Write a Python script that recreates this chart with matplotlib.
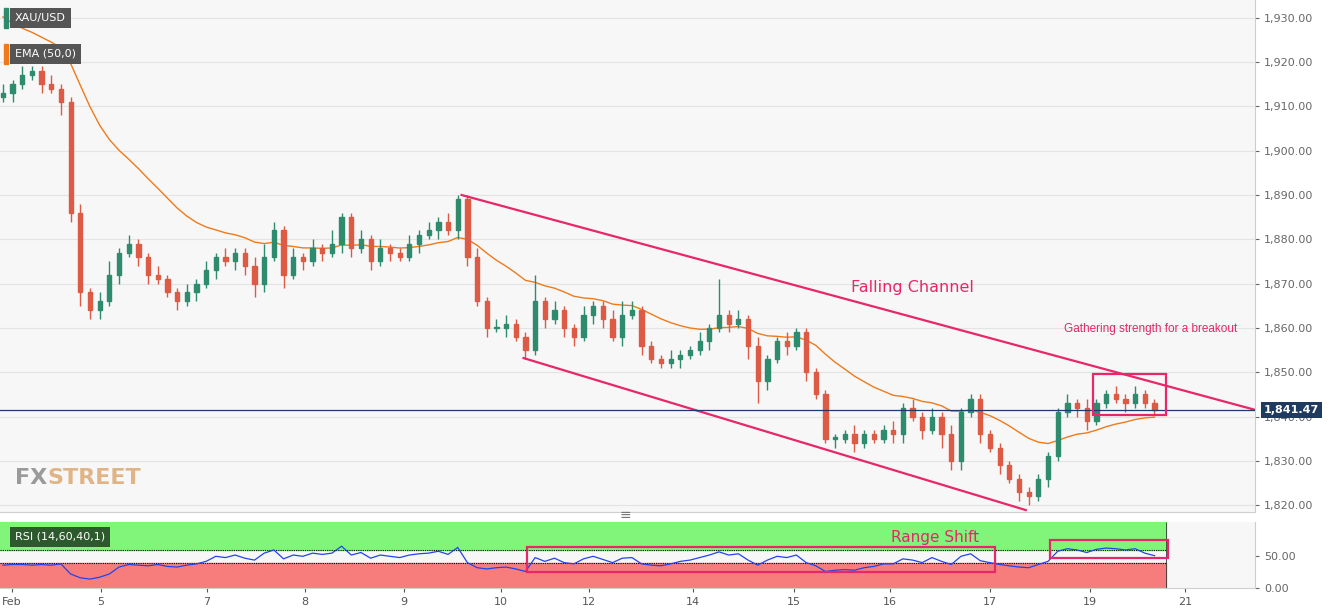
import matplotlib
matplotlib.use("Agg")
import matplotlib.pyplot as plt
from matplotlib.patches import Rectangle
import numpy as np

closes = [1913,1915,1917,1918,1915,1914,1911,1886,1868,1864,1866,1872,1877,1879,1876,1872,1871,1868,1866,1868,
          1870,1873,1876,1875,1877,1874,1870,1876,1882,1872,1876,1875,1878,1877,1879,1885,1878,1880,1875,1878,
          1877,1876,1879,1881,1882,1884,1882,1889,1876,1866,1860,1860,1861,1858,1855,1866,1862,1864,1860,1858,
          1863,1865,1862,1858,1863,1864,1856,1853,1852,1853,1854,1855,1857,1860,1863,1861,1862,1856,1848,1853,
          1857,1856,1859,1850,1845,1835,1835,1836,1834,1836,1835,1837,1836,1842,1840,1837,1840,1836,1830,1841,
          1844,1836,1833,1829,1826,1823,1822,1826,1831,1841,1843,1842,1839,1843,1845,1844,1843,1845,1843,1841.47]
first_open = 1912
wick_up = [2,1,2,1,1,2,1,1,2,1,2,3,1,2,1,1,2,1,1,2,1,2,1,2,1,1,2,3,2,1,2,1,2,1,3,1,1,2,1,2,
           1,1,2,1,2,1,2,1,1,2,1,2,2,1,1,6,1,2,1,1,2,1,1,2,3,2,1,1,1,2,1,1,2,1,8,1,2,1,2,1,
           1,2,1,1,1,1,1,1,2,1,1,1,2,1,2,1,2,1,2,1,1,1,1,1,1,1,1,1,1,1,2,1,2,1,1,2,1,2,1,1]
wick_dn = [1,2,1,1,2,1,3,2,3,2,2,1,2,1,2,2,1,1,2,1,2,1,2,1,2,2,3,2,1,3,1,2,1,2,1,2,2,1,2,1,
           2,1,1,2,1,2,1,2,2,1,2,1,2,1,2,1,2,1,2,2,1,2,2,1,2,1,2,1,1,1,2,1,1,2,1,2,1,3,5,2,
           1,2,1,2,1,1,2,1,2,1,1,1,2,2,1,2,1,3,2,2,1,2,1,2,1,2,2,1,2,1,1,2,2,1,1,1,2,1,1,1]
rsi = [36,37,37,36,37,36,38,22,16,14,17,22,33,37,36,35,37,34,33,36,38,42,50,48,52,47,44,55,60,46,
       52,50,55,53,55,66,52,56,47,52,50,48,52,54,55,58,53,64,40,32,30,32,33,30,26,48,42,47,40,38,
       46,50,45,40,47,48,38,36,35,38,42,44,48,52,57,52,54,44,36,44,50,48,52,40,35,26,28,29,28,32,
       34,38,38,46,44,40,48,42,37,50,54,43,40,37,35,33,32,37,42,58,62,60,56,61,63,62,60,62,55,51]
day_labels = ["Feb","5","7","8","9","10","12","14","15","16","17","19","21"]
day_pos = [0.9,10.1,21.1,31.2,41.4,51.5,60.6,71.3,81.7,91.7,102.0,112.3,122.2]
last_price = 1841.47

BG = "#f7f7f7"
UP = "#2e8b6e"; DN = "#dd5b45"; PINK = "#e8266a"; ORANGE = "#f07a1a"

fig = plt.figure(figsize=(13.31, 6.15), dpi=100)
fig.patch.set_facecolor("white")
ax = fig.add_axes([0, 0.167, 0.943, 0.833])
ar = fig.add_axes([0, 0.044, 0.943, 0.107])
for a in (ax, ar):
    a.set_facecolor(BG)
    for s in ("top", "left"):
        a.spines[s].set_visible(False)
    a.spines["right"].set_color("#c8cce0")
    a.spines["bottom"].set_color("#d0d0d0")
    a.yaxis.tick_right()
    a.tick_params(axis="y", labelsize=8, colors="#666666", length=3)
    a.set_xlim(-0.3, 129.4)

n = len(closes)
x = np.arange(n)
opens = [first_open] + closes[:-1]
for i in range(n):
    o, c = opens[i], closes[i]
    col = UP if c >= o else DN
    hi = max(o, c) + wick_up[i]; lo = min(o, c) - wick_dn[i]
    ax.vlines(x[i], lo, hi, color=col, lw=1, zorder=3)
    ax.add_patch(Rectangle((x[i]-0.22, min(o, c)), 0.44, max(abs(c-o), 0.3), color=col, zorder=4))

ema = []
e = 1932.0
k = 2/(20+1)
for c in closes:
    e = c*k + e*(1-k)
    ema.append(e)
ax.plot(x, ema, color=ORANGE, lw=1, zorder=2)

ax.set_ylim(1818.4, 1934)
ax.set_yticks(range(1820, 1931, 10))
ax.set_yticklabels([f"{v:,.2f}" for v in range(1820, 1931, 10)])
ax.set_xticks([])
ax.grid(axis="y", color="#e4e4e4", lw=0.8)
ax.set_axisbelow(True)

ax.plot([47.4, 137.2], [1890, 1836.9], color=PINK, lw=1.6, zorder=5)
ax.plot([53.8, 105.7], [1853.2, 1818.9], color=PINK, lw=1.6, zorder=5)
ax.add_patch(Rectangle((112.6, 1840.3), 7.6, 9.3, fill=False, ec=PINK, lw=1.6, zorder=6))
ax.text(87.6, 1869.2, "Falling Channel", color=PINK, fontsize=11.5, va="center")
ax.text(109.6, 1859.7, "Gathering strength for a breakout", color=PINK, fontsize=8.5,
        va="center", fontfamily="Liberation Sans")

ax.axhline(last_price, color="#1f3a68", lw=0.9, zorder=5)
ax.text(130.3, last_price, "1,841.47", color="white", fontsize=8, fontweight="bold", va="center", ha="left",
        bbox=dict(boxstyle="square,pad=0.3", fc="#1f3a5f", ec="none"), clip_on=False, zorder=10)

ax.text(0.012, 0.965, "XAU/USD", transform=ax.transAxes, color="white", fontsize=8, va="center",
        bbox=dict(boxstyle="square,pad=0.45", fc="#555555", ec="none"))
ax.text(0.012, 0.895, "EMA (50,0)", transform=ax.transAxes, color="white", fontsize=8, va="center",
        bbox=dict(boxstyle="square,pad=0.45", fc="#555555", ec="none"))
ax.add_patch(Rectangle((0.0035, 0.875), 0.0025, 0.04, transform=ax.transAxes, color=ORANGE, zorder=10))
ax.add_patch(Rectangle((0.0035, 0.945), 0.0025, 0.04, transform=ax.transAxes, color="#2e8b6e", zorder=10))

fx = ax.text(0.012, 0.067, "FX", transform=ax.transAxes, color="#9a9a9a", fontsize=16, fontweight="bold",
             va="center", fontfamily="Liberation Sans Narrow")
ax.annotate("STREET", xy=(1.0, 0.5), xycoords=fx, color="#e0b487", fontsize=16, fontweight="bold",
            va="center", ha="left", fontfamily="Liberation Sans Narrow")

ar.set_ylim(0, 104)
ar.fill_between([-0.3, 120.2], 60, 104, color="#80f57a", zorder=1)
ar.fill_between([-0.3, 120.2], 0, 40, color="#f77d7d", zorder=1)
ar.hlines([60, 40], -0.3, 120.2, colors="black", linestyles=(0, (1, 1)), lw=0.8, zorder=2)
ar.vlines(120.2, 0, 104, colors="#333333", lw=0.6)
ar.plot(x, rsi, color="#2244ee", lw=0.9, zorder=3)
ar.add_patch(Rectangle((54.2, 25), 48.3, 39.6, fill=False, ec=PINK, lw=1.6, zorder=4))
ar.add_patch(Rectangle((108.2, 47), 12.2, 28.6, fill=False, ec=PINK, lw=1.6, zorder=4))
ar.text(91.8, 80, "Range Shift", color=PINK, fontsize=11, va="center")
ar.text(0.012, 0.78, "RSI (14,60,40,1)", transform=ar.transAxes, color="white", fontsize=8, va="center",
        bbox=dict(boxstyle="square,pad=0.45", fc="#2d5a2d", ec="none"))
ar.set_yticks([0, 50])
ar.set_yticklabels(["0.00", "50.00"])
ar.set_xticks(day_pos)
ar.set_xticklabels(day_labels)
ar.tick_params(axis="x", labelsize=8, colors="#555555", length=3)

fig.text(0.4695, 0.162, "\u2261", fontsize=10, color="#777777", ha="center", va="center")
fig.savefig("out.png", dpi=100, facecolor="white")
